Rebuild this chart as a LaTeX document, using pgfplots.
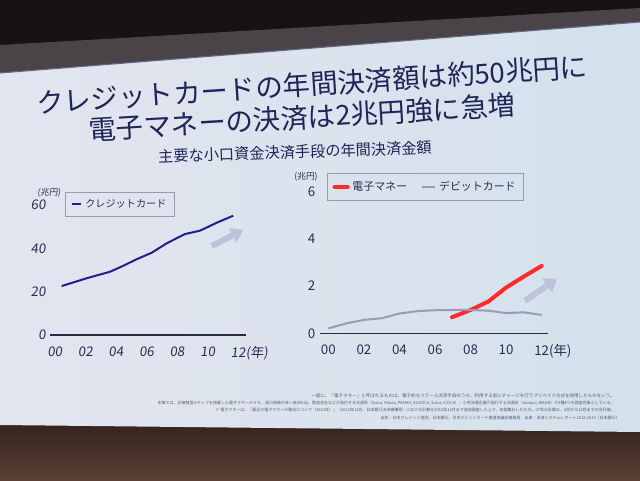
\documentclass[border=0pt]{standalone}
\usepackage{fontspec}
\setmainfont{Noto Sans CJK JP}
\newfontfamily\slantjp[FakeSlant=0.12]{Noto Sans CJK JP}
\usepackage{pgfplots}
\pgfplotsset{compat=1.18}
\usetikzlibrary{arrows.meta}
\definecolor{navyline}{HTML}{20208C}
\definecolor{redline}{HTML}{FF2A2A}
\definecolor{debitline}{HTML}{9A9AB8}
\definecolor{axisc}{HTML}{2A2A48}
\definecolor{tickc}{HTML}{2C2C50}
\definecolor{titlec}{HTML}{1F2657}
\definecolor{legc}{HTML}{9A9AAE}
\definecolor{arrowc}{HTML}{BEC2DA}
\definecolor{slideL}{HTML}{E3E5EF}
\definecolor{slideR}{HTML}{D3E1EC}
\definecolor{topdark}{HTML}{181312}
\definecolor{bezel}{HTML}{4A4448}
\definecolor{brownA}{HTML}{33221E}
\definecolor{brownB}{HTML}{5A4036}
\definecolor{footc}{HTML}{5A5E6E}
\begin{document}
\begin{tikzpicture}[x=0.75pt,y=0.75pt]
\useasboundingbox (0,0) rectangle (640,480);
\clip (0,0) rectangle (640,480);
% backgrounds
\fill[topdark] (0,0) rectangle (640,480);
\shade[top color=brownA, bottom color=brownB] (0,0) rectangle (640,60);
\fill[bezel] (0,435) -- (640,472) -- (640,458) -- (0,407) -- cycle;
\shade[left color=slideL, right color=slideR] (0,407) -- (640,458) -- (640,48) -- (0,55) -- cycle;
\draw[titlec!70, line width=0.8] (0,407) -- (640,458);
% titles
\node[rotate=3.8, text=titlec, font=\fontsize{20.6}{21}\selectfont] at (312,395.5) {クレジットカードの年間決済額は約50兆円に};
\node[rotate=3.4, text=titlec, font=\fontsize{20.6}{21}\selectfont] at (302,362.5) {電子マネーの決済は2兆円強に急増};
\node[rotate=2, text=titlec, font=\fontsize{11.4}{12}\selectfont] at (295,328) {主要な小口資金決済手段の年間決済金額};
% units
\node[text=tickc, font=\slantjp\fontsize{6.5}{7}\selectfont] at (49,287) {(兆円)};
\node[text=tickc, font=\fontsize{6.5}{7}\selectfont] at (306,303) {(兆円)};
% left chart
\begin{axis}[
  at={(37.8pt,108.75pt)}, anchor=south west,
  scale only axis, width=146.7pt, height=100.7pt,
  xmin=-0.3, xmax=12.5, ymin=0, ymax=62,
  axis x line=bottom, axis y line=left,
  x axis line style={draw=axisc, line width=1pt, -},
  y axis line style={draw=none},
  major tick length=0pt,
  xtick={0,2,4,6,8,10,12},
  xticklabels={00,02,04,06,08,10,12\rlap{(年)}},
  ytick={0,20,40,60}, yticklabels={0,20,40,60},
  tick label style={font=\slantjp\fontsize{10}{10}\selectfont, text=tickc},
  xticklabel style={yshift=-5pt},
  clip=false,
  legend style={at={(0.075,1.065)}, anchor=north west, draw=legc, fill=none,
    font=\fontsize{7.6}{8}\selectfont, text=tickc, inner xsep=4pt, inner ysep=3pt},
  legend image code/.code={\draw[#1, line width=2pt] (0pt,0pt) -- (7pt,0pt);},
  legend cell align=left,
]
\addplot[navyline, line width=1.5pt, line join=round] coordinates {
  (0.44,22.6) (2.07,26.2) (3.6,29.2) (4.45,31.9) (5.35,35.0) (6.33,38.0)
  (7.3,42.3) (8.5,46.6) (9.5,48.2) (10.6,51.9) (11.67,55.1)};
\addlegendentry{クレジットカード}
\draw[arrowc, line width=4.5pt, -{Triangle[length=9pt, width=12pt]}] (axis cs:10.25,41.1) -- (axis cs:12.32,48.5);
\end{axis}
% right chart
\begin{axis}[
  at={(240pt,110pt)}, anchor=south west,
  scale only axis, width=171.2pt, height=109.7pt,
  xmin=-0.47, xmax=12.37, ymin=0, ymax=6.2,
  axis x line=bottom, axis y line=left,
  x axis line style={draw=axisc, line width=1pt, -},
  y axis line style={draw=none},
  major tick length=0pt,
  xtick={0,2,4,6,8,10,12},
  xticklabels={00,02,04,06,08,10,12\rlap{(年)}},
  ytick={0,2,4,6}, yticklabels={0,2,4,6},
  tick label style={font=\fontsize{10}{10}\selectfont, text=tickc},
  xticklabel style={yshift=-5pt},
  clip=false,
  legend columns=2,
  legend style={at={(0.03,1.096)}, anchor=north west, draw=legc, fill=none,
    font=\fontsize{8.2}{9}\selectfont, text=tickc, inner xsep=4pt, inner ysep=4pt,
    /tikz/every even column/.append style={column sep=8pt}},
  legend cell align=left,
]
\addplot[redline, line width=3pt, line cap=round, line join=round,
  legend image code/.code={\draw[redline, line width=3pt] (0pt,0pt) -- (10pt,0pt);}] coordinates {
  (6.95,0.68) (8,0.99) (9,1.35) (10,1.94) (11,2.41) (12,2.86)};
\addlegendentry{電子マネー}
\addplot[debitline, line width=1.5pt, line join=round,
  legend image code/.code={\draw[debitline, line width=2pt] (0pt,0pt) -- (10pt,0pt);}] coordinates {
  (0,0.21) (1,0.42) (2,0.57) (3,0.64) (4,0.84) (5,0.94) (6,0.98) (7,0.99)
  (8,0.99) (9,0.96) (10,0.86) (11,0.89) (12,0.78)};
\addlegendentry{デビットカード}
\draw[arrowc, line width=4.5pt, -{Triangle[length=9pt, width=12pt]}] (axis cs:11.06,1.38) -- (axis cs:12.87,2.32);
\end{axis}
% footnotes
\begin{scope}[every node/.style={anchor=east, text=footc, inner sep=0pt}]
\node[font=\fontsize{3.4}{3.8}\selectfont] at (615,84) {一般に、「電子マネー」と呼ばれるものは、電子的なリテール決済手段のうち、利用する前にチャージを行うプリペイド方式を採用したものをいう。};
\node[font=\fontsize{3.0}{3.4}\selectfont] at (615,77) {本稿では、非接触型ICチップを搭載した電子マネーのうち、発行枚数の多い楽天Edy、鉄道会社などが発行する交通系（Suica, Kitaca, PASMO, SUGOCA, Suica, ICOCA）、小売流通企業が発行する流通系（nanaco, WAON）の3種8つを調査対象としている。};
\node[font=\fontsize{3.0}{3.4}\selectfont] at (615,70) {※ 電子マネーは、「最近の電子マネーの動向について（2012年）」（2012年11月、日本銀行決済機構局）における計数を2012年12月まで追加調査した上で、年間集計したもの。07年の計数は、4月から12月までの合計値。};
\node[font=\fontsize{3.0}{3.4}\selectfont] at (620,62) {出所：日本クレジット協会、日本銀行、日本デビットカード推進協議会事務局　出典：決済システムレポート2012-2013（日本銀行）};
\end{scope}
\end{tikzpicture}
\end{document}
